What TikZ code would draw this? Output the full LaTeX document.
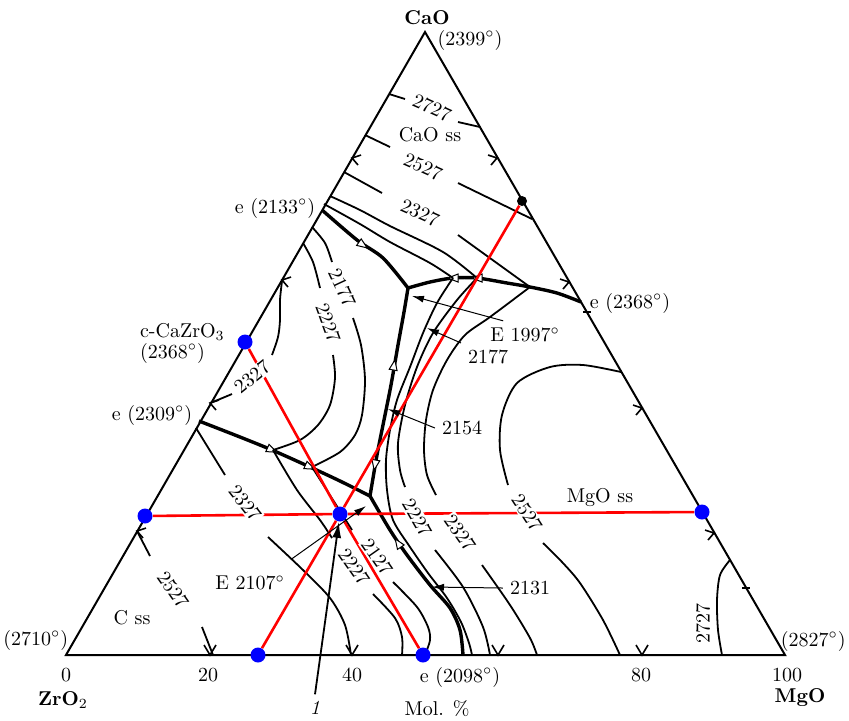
\documentclass[tikz,border=0pt]{standalone}
\usepackage{fontspec}
\usetikzlibrary{arrows.meta}
\tikzset{
    side/.style={line width=1pt, line join=miter},
    iso/.style={line width=0.9pt},
    bound/.style={line width=1.7pt, line join=round},
    redline/.style={red, line width=1.3pt},
    bdot/.style={circle, fill=blue, inner sep=0pt, minimum size=7.5pt},
    kdot/.style={circle, fill=black, inner sep=0pt, minimum size=5pt},
    ptr/.style={-{Latex[length=6pt,width=3.5pt]}, line width=0.5pt},
    ptrb/.style={-{Latex[length=8pt,width=4.5pt]}, line width=0.9pt},
    isolbl/.style={fill=white, inner sep=0.6pt},
    comp/.style={font=\bfseries},
    flow/.pic={\draw[line width=0.5pt, fill=white] (5,0) -- (-5,-4) -- (-5,4) -- cycle;},
    chl/.pic={\draw[line width=0.8pt] (9,-3) -- (0,0) -- (6,7);},
    chr/.pic={\draw[line width=0.8pt] (-9,-3) -- (0,0) -- (-6,7);},
    chb/.pic={\draw[line width=0.8pt] (-6,-10) -- (0,0) -- (6,-10);},
    tick/.pic={\draw[line width=0.8pt] (-4,0) -- (4,0);},
}
\begin{document}
\begin{tikzpicture}[x=0.5pt, y=-0.5pt]
    \useasboundingbox (0,0) rectangle (849,720);
    % corners and eutectic points
    \coordinate (zro) at (66,655);
    \coordinate (mgo) at (785,655);
    \coordinate (cao) at (425,32);
    \coordinate (eA) at (322,210);
    \coordinate (eB) at (199,421);
    \coordinate (eC) at (581,302);
    \coordinate (eD) at (463,655);
    \coordinate (E1) at (408,288);
    \coordinate (E2) at (370,496);

    \draw[side] (zro) -- (mgo) -- (cao) -- cycle;

    % field boundaries
    \draw[bound] plot[smooth] coordinates {(eA) (357,240) (383,258) (E1)};
    \draw[bound] plot[smooth] coordinates {(eC) (557,293) (530,287) (507,283) (477,278) (453,278) (430,282) (E1)};
    \draw[bound] plot[smooth] coordinates {(E1) (404,312) (398,345) (391,385) (384,420) (377,455) (E2)};
    \draw[bound] plot[smooth] coordinates {(eB) (240,437) (272,450) (310,467) (340,481) (E2)};
    \draw[bound] plot[smooth] coordinates {(E2) (390,530) (407,555) (430,585) (450,608) (460,630) (eD)};
    \pic[rotate=-35] at (363,245) {flow};
    \pic[rotate=180] at (477,278) {flow};
    \pic[rotate=180] at (453,278) {flow};
    \pic[rotate=80] at (394,365) {flow};
    \pic[rotate=-100] at (375,465) {flow};
    \pic[rotate=-24] at (272,450) {flow};
    \pic[rotate=-24] at (310,467) {flow};
    \pic[rotate=124] at (398,543) {flow};

    % isotherms, CaO field
    \draw[iso] (389,94) -- (405,99);
    \draw[iso] (458,122) -- (480,127);
    \draw[iso] (365,135) -- (390,147);
    \draw[iso] (458,183) -- (532,219);
    \draw[iso] (344,172) -- (382,193);
    \draw[iso] (458,235) -- (530,287);
    \draw[iso] plot[smooth] coordinates {(324,204) (360,224) (390,242) (430,263) (453,278)};
    \draw[iso] plot[smooth] coordinates {(330,196) (360,210) (390,226) (443,252) (477,278)};

    % isotherms, CaZrO3 field
    \draw[iso] plot[smooth] coordinates {(282,281) (280,300) (280,320) (278,337) (272,355)};
    \draw[iso] plot[smooth] coordinates {(232,394) (220,399) (210,403)};
    \draw[iso] plot[smooth] coordinates {(303,243) (313,262) (320,288)};
    \draw[iso] plot[smooth] coordinates {(333,355) (335,378) (330,405) (318,425) (300,440) (273,450)};
    \draw[iso] plot[smooth] coordinates {(312,227) (325,243) (332,262)};
    \draw[iso] plot[smooth] coordinates {(353,318) (361,345) (365,380) (362,415) (355,435) (340,452) (312,467)};

    % isotherms, C ss field
    \draw[iso] (137,531) -- (150,556);
    \draw[iso] (202,627) -- (213,655);
    \draw[iso] (196,428) -- (225,475);
    \draw[iso] plot[smooth] coordinates {(268,537) (303,570) (330,598) (345,625) (351,655)};
    \draw[iso] plot[smooth] coordinates {(273,450) (297,490) (320,520) (332,538)};
    \draw[iso] plot[smooth] coordinates {(373,594) (395,618) (402,637) (402,655)};
    \draw[iso] plot[smooth] coordinates {(312,467) (333,500) (352,530)};
    \draw[iso] plot[smooth] coordinates {(393,582) (417,607) (428,627) (430,640) (425,655)};

    % isotherms, MgO field
    \draw[iso] plot[smooth] coordinates {(453,278) (437,303) (423,333) (410,367) (397,400) (390,430) (386,460) (387,490) (393,520) (410,547) (428,573) (447,598) (461,622) (469,643) (472,655)};
    \draw[iso] plot[smooth] coordinates {(477,278) (457,300) (433,333) (417,367) (405,405) (398,443) (400,470) (405,487)};
    \draw[iso] plot[smooth] coordinates {(435,550) (463,587) (483,627) (490,655)};
    \draw[iso] plot[smooth] coordinates {(530,287) (490,317) (465,335) (447,360) (433,390) (426,420) (424,450) (427,475) (436,495)};
    \draw[iso] plot[smooth] coordinates {(482,565) (510,605) (530,638) (537,655)};
    \draw[iso] plot[smooth] coordinates {(621,372) (583,365) (550,367) (517,383) (502,415) (500,450) (508,485)};
    \draw[iso] plot[smooth] coordinates {(543,543) (562,562) (580,583) (603,620) (620,655)};
    \draw[iso] plot[smooth] coordinates {(730,560) (720,575) (717,600) (718,630) (722,655)};

    % marks on the sides
    \pic at (352,158) {chl};
    \pic at (282,280) {chl};
    \pic at (210,403) {chl};
    \pic at (137,531) {chl};
    \pic at (497,158) {chr};
    \pic at (569,282) {chr};
    \pic at (642,408) {chr};
    \pic at (714,533) {chr};
    \pic at (210,655) {chb};
    \pic at (352,655) {chb};
    \pic at (498,655) {chb};
    \pic at (642,655) {chb};
    \pic at (587,312) {tick};
    \pic at (746,588) {tick};

    % joins
    \node[bdot] (pL) at (145,516) {};
    \node[bdot] (pR) at (702,512) {};
    \node[bdot] (pC) at (245,342) {};
    \node[bdot] (pM) at (340,514) {};
    \node[bdot] (pB1) at (258,655) {};
    \node[bdot] (pB2) at (423,655) {};
    \node[kdot] (pK) at (522,201) {};
    \draw[redline] (pL) -- (pM) -- (pR);
    \draw[redline] (pC) -- (pM) -- (pB2);
    \draw[redline] (pB1) -- (pM) -- (pK);

    % isotherm values
    \node[isolbl, rotate=-24] (a2727) at (432,108) {2727};
    \node[isolbl, rotate=-24] (a2527) at (423,167) {2527};
    \node[isolbl, rotate=-24] (a2327) at (420,213) {2327};
    \node[isolbl, rotate=-65] (z2177) at (342,288) {2177};
    \node[isolbl, rotate=-70] (z2227) at (328,323) {2227};
    \node[isolbl, rotate=39] (z2327) at (252,377) {2327};
    \node[isolbl, rotate=-55] (c2527) at (173,590) {2527};
    \node[isolbl, rotate=-52] (c2327) at (245,503) {2327};
    \node[isolbl, rotate=-55] (c2227) at (354,567) {2227};
    \node[isolbl, rotate=-55] (c2127) at (377,557) {2127};
    \node[isolbl, rotate=-60] (m2227) at (417,518) {2227};
    \node[isolbl, rotate=-55] (m2327) at (460,533) {2327};
    \node[isolbl, rotate=-57] (m2527) at (527,513) {2527};
    \node[rotate=90] (m2727) at (703,623) {2727};

    % field names
    \node (fCaO) at (430,135) {CaO ss};
    \node (fMgO) at (600,497) {MgO ss};
    \node (fC) at (132,618) {C ss};

    % corners
    \node[comp] (nCaO) at (427,18) {CaO};
    \node (tCaO) at (470,40) {(2399$^\circ$)};
    \node[comp] (nZrO) at (63,700) {ZrO$_2$};
    \node[comp] (nMgO) at (800,698) {MgO};
    \node[anchor=west, inner sep=1pt] (tZrO) at (1,640) {(2710$^\circ$)};
    \node[anchor=east, inner sep=1pt] (tMgO) at (848,641) {(2827$^\circ$)};

    % scale
    \node (s0) at (66,675) {0};
    \node (s20) at (208,675) {20};
    \node (s40) at (352,675) {40};
    \node (s80) at (641,675) {80};
    \node (s100) at (787,675) {100};
    \node[inner sep=1pt] (tmol) at (437,709) {Mol. \%};

    % eutectics
    \node (teA) at (275,208) {e (2133$^\circ$)};
    \node[anchor=west] (tCZ) at (133,332) {c-CaZrO$_3$};
    \node[anchor=west] (tCZt) at (133,353) {(2368$^\circ$)};
    \node (teB) at (152,415) {e (2309$^\circ$)};
    \node (teC) at (630,303) {e (2368$^\circ$)};
    \node (teD) at (460,677) {e (2098$^\circ$)};

    % pointers
    \node (lE1) at (525,335) {E 1997$^\circ$};
    \node (l2177) at (488,357) {2177};
    \node (l2154) at (462,428) {2154};
    \node (l2131) at (530,588) {2131};
    \node (lE2) at (250,583) {E 2107$^\circ$};
    \node (l1) at (315,708) {\itshape 1};
    \coordinate (tE1) at (412,296);
    \coordinate (t2177) at (427,328);
    \coordinate (t2154) at (388,409);
    \coordinate (t2131) at (432,587);
    \coordinate (tE2) at (366,506);
    \draw[ptr] ([xshift=10pt]lE1.north west) -- (tE1);
    \draw[ptr] (l2177.north west) -- (t2177);
    \draw[ptr] (l2154.west) -- (t2154);
    \draw[ptr] (l2131.west) -- (t2131);
    \draw[ptr] ([yshift=5pt]lE2.north east) -- (tE2);
    \draw[ptrb] (l1.north) -- (pM);
\end{tikzpicture}
\end{document}
